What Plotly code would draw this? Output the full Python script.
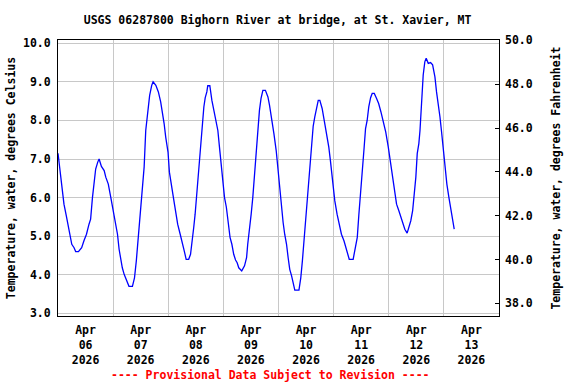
import pandas as pd
import plotly.graph_objects as go

# Data: hours since 2026-04-06 00:00 and water temperature (deg C)
start_time = "2026-04-06 00:00"
hours = [0.0, 1.0, 1.9, 2.6, 3.6, 4.5, 5.1, 6.0, 7.0, 7.7, 8.9, 10.3, 11.3, 12.4, 13.5, 14.2,
         15.0, 15.7, 16.4, 17.3, 17.9, 18.9, 20.1, 20.8, 21.9, 23.0, 24.0, 24.8, 25.9, 26.6,
         27.3, 28.0, 28.8, 29.8, 30.9, 32.4, 33.3, 34.1, 35.0, 36.0, 36.7, 37.5, 38.2, 39.1,
         39.9, 40.8, 41.4, 42.6, 43.7, 44.7, 45.5, 46.2, 46.9, 47.9, 48.5, 49.2, 50.0, 50.7,
         51.4, 52.1, 53.2, 54.0, 54.8, 55.8, 56.9, 57.7, 58.4, 59.1, 59.7, 60.4, 61.0, 61.6,
         62.3, 62.9, 63.5, 64.1, 64.8, 65.2, 66.1, 67.0, 67.8, 68.7, 69.6, 70.3, 71.0, 71.7,
         72.5, 73.3, 74.2, 74.9, 75.7, 76.5, 77.3, 78.0, 78.7, 80.0, 81.2, 82.1, 82.6, 83.4,
         84.1, 84.8, 85.5, 86.3, 87.0, 87.7, 88.4, 89.2, 90.3, 91.4, 92.1, 93.1, 94.0, 95.0,
         95.7, 96.6, 97.3, 98.0, 98.7, 99.5, 100.2, 100.9, 101.7, 102.4, 103.1, 104.9, 105.7,
         106.4, 107.2, 107.9, 108.6, 109.3, 110.0, 110.5, 111.1, 111.8, 112.5, 113.3, 114.0,
         115.0, 115.9, 116.9, 117.9, 118.6, 119.5, 120.5, 121.5, 122.4, 123.4, 124.5, 125.6,
         126.8, 128.5, 129.4, 130.3, 131.0, 131.9, 132.6, 133.3, 133.9, 134.6, 135.3, 136.1,
         136.8, 137.7, 138.7, 139.6, 140.6, 141.6, 142.7, 143.8, 144.6, 145.2, 145.9, 146.7,
         147.4, 148.4, 149.3, 150.3, 151.0, 152.0, 152.9, 153.6, 154.4, 155.1, 155.8, 156.4,
         157.1, 157.6, 158.0, 158.4, 159.0, 159.7, 160.3, 161.2, 162.2, 163.1, 164.1, 164.8,
         165.7, 166.3, 167.0, 167.7, 168.5, 169.3, 170.2, 171.1, 171.8, 172.5]
temps_c = [7.15, 6.66, 6.27, 5.83, 5.53, 5.23, 5.05, 4.79, 4.70, 4.60, 4.60, 4.70, 4.88, 5.05, 5.31, 5.44,
           6.00, 6.35, 6.74, 6.92, 7.00, 6.81, 6.70, 6.53, 6.35, 6.00, 5.66, 5.36, 5.05, 4.66,
           4.36, 4.18, 4.01, 3.84, 3.70, 3.70, 3.92, 4.36, 4.97, 5.66, 6.09, 6.79, 7.74, 8.26,
           8.65, 8.91, 9.00, 8.91, 8.74, 8.48, 8.22, 7.92, 7.57, 7.18, 6.66, 6.35, 6.09, 5.83,
           5.57, 5.31, 5.05, 4.88, 4.66, 4.40, 4.40, 4.53, 4.97, 5.23, 5.57, 6.09, 6.48, 6.92,
           7.48, 7.92, 8.35, 8.59, 8.74, 8.90, 8.90, 8.52, 8.26, 8.00, 7.74, 7.31, 6.88, 6.35,
           6.00, 5.75, 5.36, 4.97, 4.79, 4.53, 4.38, 4.31, 4.18, 4.10, 4.23, 4.44, 4.79, 5.14,
           5.57, 6.00, 6.61, 7.22, 7.74, 8.26, 8.57, 8.78, 8.78, 8.61, 8.39, 8.05, 7.66, 7.22,
           6.74, 6.27, 5.70, 5.36, 5.05, 4.79, 4.44, 4.14, 3.97, 3.79, 3.60, 3.60, 3.92,
           4.36, 4.97, 5.49, 6.00, 6.61, 7.09, 7.53, 7.85, 8.09, 8.31, 8.52, 8.52,
           8.31, 8.00, 7.70, 7.31, 6.96, 6.44, 5.92, 5.57, 5.31, 5.05, 4.88, 4.62,
           4.40, 4.40, 4.70, 4.97, 5.57, 6.18, 6.79, 7.31, 7.79, 8.00, 8.35, 8.59,
           8.70, 8.70, 8.57, 8.44, 8.22, 7.96, 7.70, 7.31, 7.00, 6.79, 6.44, 6.09,
           5.83, 5.66, 5.49, 5.31, 5.18, 5.08, 5.23, 5.40, 5.66, 6.09, 6.53, 7.14,
           7.40, 7.74, 8.18, 8.61, 9.18, 9.52, 9.61, 9.48, 9.50, 9.44, 9.13, 8.74,
           8.39, 8.09, 7.70, 7.22, 6.74, 6.35, 6.00, 5.66, 5.44, 5.18]

title_text = "USGS 06287800 Bighorn River at bridge, at St. Xavier, MT"
left_title = "Temperature, water, degrees Celsius"
right_title = "Temperature, water, degrees Fahrenheit"
footer_text = "---- Provisional Data Subject to Revision ----"
x_range = ["2026-04-06 00:00", "2026-04-14 00:00"]
c_range = [2.93, 10.086]
f_range = [37.42, 50.02]

times = pd.Timestamp(start_time) + pd.to_timedelta(hours, unit="h")

FONT = "DejaVu Sans Mono"
fs = 11.5
grid = "#c8c8c8"

fig = go.Figure()
fig.add_trace(go.Scatter(x=times, y=temps_c, mode="lines",
                         line=dict(color="#0000ff", width=1.3), showlegend=False))
# invisible trace to activate right axis
fig.add_trace(go.Scatter(x=[times[0]], y=[45], yaxis="y2", mode="markers",
                         marker=dict(opacity=0), showlegend=False, hoverinfo="skip"))

fig.update_layout(
    width=576, height=384,
    margin=dict(l=58, r=77, t=40, b=68, autoexpand=False),
    paper_bgcolor="white", plot_bgcolor="white",
    font=dict(family=FONT, size=fs, color="black", weight="bold"),
    title=dict(text=title_text, x=0.482, xanchor="center", y=1 - 20 / 384, yref="container",
               yanchor="middle", automargin=False,
               font=dict(family=FONT, size=fs, weight="bold")),
    xaxis=dict(type="date", range=x_range, dtick=86400000, tick0="2026-04-06",
               tickformat="%b<br>%d<br>%Y", ticklabelmode="period",
               showgrid=True, gridcolor=grid, gridwidth=1, automargin=False,
               showline=True, linecolor="black", linewidth=1, mirror=True,
               ticks="", ticklabelstandoff=3,
               tickfont=dict(family=FONT, size=fs, weight="bold")),
    yaxis=dict(range=c_range, dtick=1, tick0=0, tickformat=".1f", automargin=False,
               showgrid=True, gridcolor=grid, gridwidth=1, zeroline=False,
               showline=True, linecolor="black", linewidth=1, mirror=True,
               ticks="", ticklabelstandoff=4,
               tickfont=dict(family=FONT, size=fs, weight="bold"),
               title=dict(text=left_title, standoff=4,
                          font=dict(family=FONT, size=fs, weight="bold"))),
    yaxis2=dict(range=f_range, dtick=2, tick0=0, tickformat=".1f", automargin=False,
                overlaying="y", side="right", showgrid=False, zeroline=False,
                ticks="inside", ticklen=4, tickcolor="black", ticklabelstandoff=5,
                showline=False,
                tickfont=dict(family=FONT, size=fs, weight="bold"),
                title=dict(text=right_title, standoff=20,
                           font=dict(family=FONT, size=fs, weight="bold"))),
    annotations=[dict(text=footer_text, xref="paper", yref="paper", x=0.482, y=-0.215,
                      xanchor="center", yanchor="middle", showarrow=False,
                      font=dict(family=FONT, size=fs, color="#ff0000", weight="bold"))],
)

fig.write_html("out.html", config={"displayModeBar": False},
               post_script="document.body.style.margin='0';document.body.style.overflow='hidden';")
